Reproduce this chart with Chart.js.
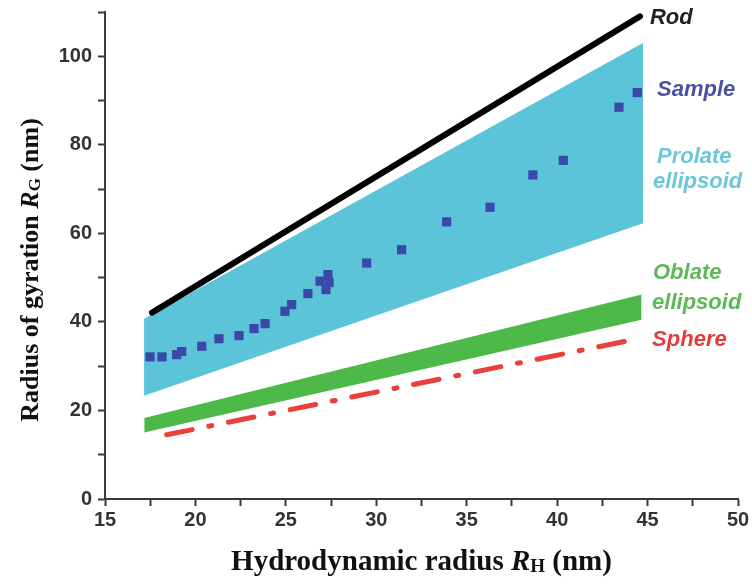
<!DOCTYPE html>
<html><head><meta charset="utf-8">
<script src="https://cdn.jsdelivr.net/npm/chart.js@4.4.1/dist/chart.umd.min.js"></script>
<style>html,body{margin:0;padding:0;background:#fff;}#wrap{width:752px;height:587px;}</style>
</head><body><div id="wrap"><canvas id="c" width="752" height="587"></canvas></div>
<script>
// ---- data ----
const sampleX = [17.49, 18.15, 18.96, 19.24, 20.35, 21.30, 22.41, 23.24, 23.85, 24.95, 25.32, 26.22, 26.89, 27.22, 27.33, 27.39, 29.47, 31.40, 33.89, 36.29, 38.66, 40.34, 43.42, 44.43];
const sampleY = [32.1, 32.1, 32.6, 33.3, 34.5, 36.2, 36.9, 38.5, 39.6, 42.4, 43.9, 46.4, 49.2, 47.3, 50.7, 48.9, 53.3, 56.3, 62.6, 65.9, 73.2, 76.5, 88.5, 91.8];
const rodX = [17.6, 44.58];
const rodY = [42.1, 109.0];
const prolateX = [17.16, 44.75];
const prolateUpper = [40.7, 103.0];
const prolateLower = [23.3, 62.3];
const oblateX = [17.17, 44.67];
const oblateUpper = [18.3, 46.2];
const oblateLower = [15.0, 40.5];
const sphereX = [18.41, 44.58];
const sphereY = [14.5, 36.3];
const xTickValues = [15, 17.5, 20, 22.5, 25, 27.5, 30, 32.5, 35, 37.5, 40, 42.5, 45, 47.5, 50];
const xTickLabels = ['15', '', '20', '', '25', '', '30', '', '35', '', '40', '', '45', '', '50'];
const yTickValues = [0, 10, 20, 30, 40, 50, 60, 70, 80, 90, 100, 110];
const yTickLabels = ['0', '', '20', '', '40', '', '60', '', '80', '', '100', ''];
const seriesText = ['Rod', 'Sample', 'Prolate', 'ellipsoid', 'Oblate', 'ellipsoid', 'Sphere'];

const pts = (xs, ys) => xs.map((x, i) => ({x: x, y: ys[i]}));

const labelPlugin = {
  id: 'labels',
  afterDatasetsDraw(chart) {
    const ctx = chart.ctx, xs = chart.scales.x, ys = chart.scales.y;
    const place = [
      [45.13, 108.6, '#222222'],
      [45.52, 92.4, '#4b50a5'],
      [45.52, 77.3, '#6ec6da'],
      [45.30, 71.6, '#6ec6da'],
      [45.30, 51.0, '#5db857'],
      [45.25, 44.3, '#5db857'],
      [45.25, 35.9, '#e23b3b']
    ];
    ctx.save();
    ctx.font = 'italic bold 22px "Liberation Sans", Arial, sans-serif';
    ctx.textBaseline = 'middle';
    ctx.textAlign = 'left';
    seriesText.forEach((t, i) => {
      ctx.fillStyle = place[i][2];
      ctx.fillText(t, xs.getPixelForValue(place[i][0]), ys.getPixelForValue(place[i][1]));
    });
    ctx.restore();
  }
};

function drawMixed(ctx, parts, cx, cy) {
  let w = 0;
  parts.forEach(p => { ctx.font = p.f; p.w = ctx.measureText(p.t).width; w += p.w; });
  let x = cx - w / 2;
  parts.forEach(p => {
    ctx.font = p.f;
    ctx.fillText(p.t, x, cy + (p.dy || 0));
    x += p.w;
  });
}

const serif = '"Liberation Serif", "Times New Roman", serif';
const titlePlugin = {
  id: 'titles',
  afterDraw(chart) {
    const ctx = chart.ctx;
    ctx.save();
    ctx.fillStyle = '#111';
    ctx.textBaseline = 'alphabetic';
    ctx.textAlign = 'left';
    drawMixed(ctx, [
      {t: 'Hydrodynamic radius ', f: 'bold 29px ' + serif},
      {t: 'R', f: 'italic bold 29px ' + serif},
      {t: 'H', f: 'bold 19px ' + serif, dy: 2},
      {t: ' (nm)', f: 'bold 29px ' + serif}
    ], (chart.chartArea.left + chart.chartArea.right) / 2, 570);
    ctx.translate(38, 270);
    ctx.rotate(-Math.PI / 2);
    drawMixed(ctx, [
      {t: 'Radius of gyration ', f: 'bold 26px ' + serif},
      {t: 'R', f: 'italic bold 26px ' + serif},
      {t: 'G', f: 'bold 17px ' + serif, dy: 2},
      {t: ' (nm)', f: 'bold 26px ' + serif}
    ], 0, 0);
    ctx.restore();
  }
};

const axisColor = '#3a3a3a';
const tickFont = {family: '"Liberation Sans", Arial, sans-serif', size: 20, weight: 'bold'};

new Chart(document.getElementById('c'), {
  type: 'scatter',
  data: {
    datasets: [
      {label: 'Sample', data: pts(sampleX, sampleY), pointStyle: 'rect', pointRadius: 6.5, pointHoverRadius: 6.5,
       backgroundColor: '#3a48aa', borderColor: '#3a48aa', borderWidth: 0, order: 0},
      {label: 'Rod', data: pts(rodX, rodY), showLine: true, pointRadius: 0, borderColor: '#000', borderWidth: 6,
       borderCapStyle: 'round', order: 1},
      {label: 'Sphere', data: pts(sphereX, sphereY), showLine: true, pointRadius: 0, borderColor: '#e8403a', borderWidth: 5,
       borderCapStyle: 'round', borderDash: [26, 17, 3, 17], order: 2},
      {label: 'Oblate upper', data: pts(oblateX, oblateUpper), showLine: true, pointRadius: 0, borderWidth: 0,
       borderColor: 'rgba(0,0,0,0)', backgroundColor: '#4cb948', fill: 4, order: 3},
      {label: 'Oblate lower', data: pts(oblateX, oblateLower), showLine: true, pointRadius: 0, borderWidth: 0,
       borderColor: 'rgba(0,0,0,0)', order: 4},
      {label: 'Prolate upper', data: pts(prolateX, prolateUpper), showLine: true, pointRadius: 0, borderWidth: 0,
       borderColor: 'rgba(0,0,0,0)', backgroundColor: '#5bc4d9', fill: 6, order: 5},
      {label: 'Prolate lower', data: pts(prolateX, prolateLower), showLine: true, pointRadius: 0, borderWidth: 0,
       borderColor: 'rgba(0,0,0,0)', order: 6}
    ]
  },
  options: {
    responsive: false,
    animation: false,
    devicePixelRatio: 1,
    layout: {padding: {top: 12, right: 14, left: 0, bottom: 0}},
    plugins: {legend: {display: false}, tooltip: {enabled: false}},
    scales: {
      x: {
        type: 'linear', min: 15, max: 50,
        afterBuildTicks: s => { s.ticks = xTickValues.map(v => ({value: v})); },
        afterFit: s => { s.height = 88; },
        ticks: {autoSkip: false, maxRotation: 0, color: '#333', font: tickFont, padding: 2,
                callback: (v) => { const i = xTickValues.indexOf(v); return i >= 0 ? xTickLabels[i] : ''; }},
        grid: {drawOnChartArea: false, drawTicks: true, tickLength: 7, tickColor: axisColor, tickWidth: 2},
        border: {display: true, color: axisColor, width: 2}
      },
      y: {
        type: 'linear', min: 0, max: 110,
        afterBuildTicks: s => { s.ticks = yTickValues.map(v => ({value: v})); },
        afterFit: s => { s.width = 105; s.paddingTop = 0; s.paddingBottom = 0; },
        ticks: {autoSkip: false, color: '#333', font: tickFont, padding: 6,
                callback: (v) => { const i = yTickValues.indexOf(v); return i >= 0 ? yTickLabels[i] : ''; }},
        grid: {drawOnChartArea: false, drawTicks: true, tickLength: 7, tickColor: axisColor, tickWidth: 2},
        border: {display: true, color: axisColor, width: 2}
      }
    }
  },
  plugins: [labelPlugin, titlePlugin]
});
</script>
</body></html>
